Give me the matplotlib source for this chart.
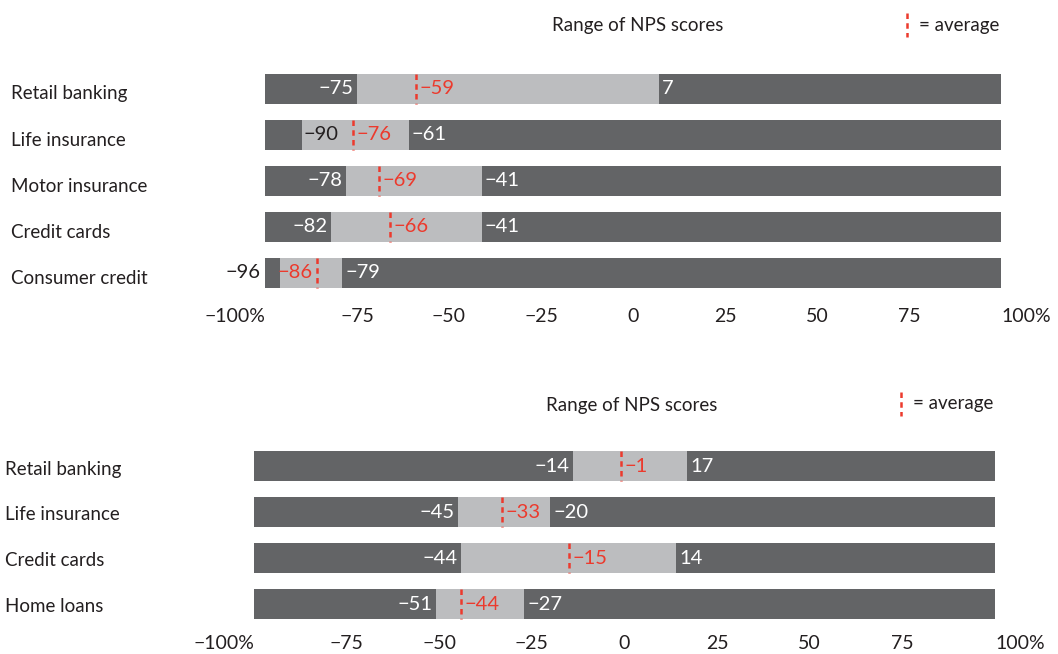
import matplotlib
matplotlib.use('Agg')
import matplotlib.pyplot as plt
from matplotlib.transforms import blended_transform_factory, offset_copy
from matplotlib.lines import Line2D

# ---------------- data ----------------
categories_top = ["Retail banking", "Life insurance", "Motor insurance", "Credit cards", "Consumer credit"]
min_top = [-75, -90, -78, -82, -96]
avg_top = [-59, -76, -69, -66, -86]
max_top = [7, -61, -41, -41, -79]

categories_bot = ["Retail banking", "Life insurance", "Credit cards", "Home loans"]
min_bot = [-14, -45, -44, -51]
avg_bot = [-1, -33, -15, -44]
max_bot = [17, -20, 14, -27]

scale_min, scale_max = -100, 100
tick_values = [-100, -75, -50, -25, 0, 25, 50, 75, 100]
title_text = "Range of NPS scores"
legend_text = "= average"

# ---------------- style ----------------
plt.rcParams['font.family'] = ['Lato', 'DejaVu Sans']
W, H = 1058, 654
DARK = '#636466'
LIGHT = '#bcbdbf'
RED = '#ec3a2d'
TXT = '#231f20'
NUM_FS = 14.5
CAT_FS = 13.5
TICK_FS = 14
DASH = (0, (2.2, 1.7))

fig = plt.figure(figsize=(W / 100, H / 100), dpi=100)


def fmt(v):
    return '\u2212%d' % -v if v < 0 else '%d' % v


def tick_fmt(v):
    s = fmt(v)
    if abs(v) == 100:
        s += '%'
    return s


def panel(rect_px, cats, mins, avgs, maxs, cat_x_px, title_px, legend_px, tick_pad, cat_dy):
    left, top, width, height = rect_px
    ax = fig.add_axes([left / W, (H - top - height) / H, width / W, height / H])
    n = len(cats)
    ys = list(range(n))
    bh = 0.64
    ax.set_xlim(scale_min, scale_max)
    ax.set_ylim(n - 0.5, -0.5)
    for s in ax.spines.values():
        s.set_visible(False)
    ax.set_yticks([])
    ax.set_xticks(tick_values)
    ax.set_xticklabels([tick_fmt(v) for v in tick_values])
    ax.tick_params(axis='x', length=0, pad=tick_pad, labelsize=TICK_FS, labelcolor=TXT)
    lbls = ax.get_xticklabels()
    lbls[0].set_ha('right')
    lbls[-1].set_ha('left')

    ax.barh(ys, scale_max - scale_min, left=scale_min, height=bh, color=DARK, lw=0)
    ax.barh(ys, [mx - mn for mn, mx in zip(mins, maxs)], left=mins, height=bh, color=LIGHT, lw=0)

    trans_cat = offset_copy(blended_transform_factory(fig.transFigure, ax.transData),
                            fig=fig, x=0, y=-cat_dy, units='dots')
    for y, c, mn, av, mx in zip(ys, cats, mins, avgs, maxs):
        ax.text(cat_x_px / W, y, c, transform=trans_cat, ha='left', va='center',
                fontsize=CAT_FS, color=TXT)
        ax.plot([av, av], [y - bh / 2, y + bh / 2], color=RED, lw=1.8, ls=DASH,
                solid_capstyle='butt', dash_capstyle='butt')
        # min label
        gap = mn - scale_min
        if gap >= 12:
            ax.annotate(fmt(mn), (mn, y), xytext=(-2.5, 0), textcoords='offset points',
                        ha='right', va='center', fontsize=NUM_FS, color='white')
        elif gap >= 6:
            ax.annotate(fmt(mn), (mn, y), xytext=(1.5, 0), textcoords='offset points',
                        ha='left', va='center', fontsize=NUM_FS, color=TXT)
        else:
            ax.annotate(fmt(mn), (scale_min, y), xytext=(-3, 0), textcoords='offset points',
                        ha='right', va='center', fontsize=NUM_FS, color=TXT,
                        annotation_clip=False)
        # max label
        ax.annotate(fmt(mx), (mx, y), xytext=(2, 0), textcoords='offset points',
                    ha='left', va='center', fontsize=NUM_FS, color='white')
        # average label
        if mx - av >= 9:
            ax.annotate(fmt(av), (av, y), xytext=(2.5, 0), textcoords='offset points',
                        ha='left', va='center', fontsize=NUM_FS, color=RED)
        else:
            ax.annotate(fmt(av), (av, y), xytext=(-2.5, 0), textcoords='offset points',
                        ha='right', va='center', fontsize=NUM_FS, color=RED)

    tx, ty = title_px
    fig.text(tx / W, 1 - ty / H, title_text, ha='center', va='center', fontsize=CAT_FS, color=TXT)
    lx, ly = legend_px
    fig.add_artist(Line2D([lx / W, lx / W], [1 - (ly - 12) / H, 1 - (ly + 12) / H],
                          transform=fig.transFigure, color=RED, lw=1.8, ls=DASH))
    fig.text((lx + 12) / W, 1 - ly / H, legend_text, ha='left', va='center',
             fontsize=CAT_FS, color=TXT)
    return ax


panel((265, 66, 736, 230), categories_top, min_top, avg_top, max_top,
      11, (638, 26), (907, 25), 9, 5)
panel((254, 443, 741, 184), categories_bot, min_bot, avg_bot, max_bot,
      5, (632, 405), (901, 404), 6, 3)

fig.savefig('out.png', dpi=100)
